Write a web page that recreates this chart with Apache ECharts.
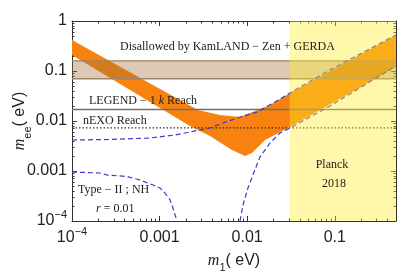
<!DOCTYPE html>
<html><head><meta charset="utf-8">
<script src="https://cdn.jsdelivr.net/npm/echarts@6/dist/echarts.min.js"></script>
<style>html,body{margin:0;padding:0;background:#fff}#c{width:400px;height:272px}</style>
</head><body><div id="c"></div>
<script>
// ---- data ----
const xTicks = [1e-4, 0.001, 0.01, 0.1];
const xTickLabels = ['10^-4', '0.001', '0.01', '0.1'];
const yTicks = [1e-4, 0.001, 0.01, 0.1, 1];
const yTickLabels = ['10^-4', '0.001', '0.01', '0.1', '1'];
const m1Range = [1e-4, 0.5];
const meeRange = [1e-4, 1];
const kamlandBand = [0.07, 0.16];
const legendReach = 0.017;
const nexoReach = 0.0073;
const planckM1 = 0.0305;
// Type-II allowed region: upper boundary (left->right), lower boundary (right->left)
const orangeUpper = [[1e-4,0.417],[2.74e-3,0.0166],[4.89e-3,0.0132],[8.27e-3,0.012],[0.0182,0.0209],[0.0308,0.0363],[0.5,0.525]];
const orangeLower = [[0.5,0.12],[0.0308,0.00759],[0.016,0.00417],[0.01135,0.00229],[0.00944,0.0020],[0.0067,0.00263],[0.00376,0.0050],[0.00222,0.0079],[1e-4,0.209]];
// NH standard bounds (blue dashed)
const nhUpper = [[1e-4,0.00417],[2.72e-4,0.00427],[7.76e-4,0.00457],[1.5e-3,0.00525],[2.22e-3,0.00603],[3.76e-3,0.00724],[5.29e-3,0.00912],[8.27e-3,0.012],[0.01294,0.0151],[0.0208,0.024],[0.0308,0.0363],[0.0881,0.105],[0.5,0.525]];
const nhLowerLeft = [[1e-4,9.55e-4],[2.09e-4,9.12e-4],[2.51e-4,8.3e-4],[4.25e-4,7.76e-4],[5.97e-4,6.6e-4],[8.41e-4,5.25e-4],[1.01e-3,4.57e-4],[1.15e-3,3.63e-4],[1.32e-3,2.63e-4],[1.42e-3,1.82e-4],[1.58e-3,1e-4]];
const nhLowerRight = [[8.28e-3,1e-4],[8.96e-3,2.09e-4],[0.0102,4.57e-4],[0.01197,9.55e-4],[0.014,1.9e-3],[0.0182,3.63e-3],[0.0237,5.75e-3],[0.0308,7.24e-3],[0.0881,0.02],[0.5,0.126]];

// ---- helpers ----
function tickFmt(ticks, labels) {
  return function (v) {
    const i = ticks.findIndex(t => Math.abs(Math.log10(t) - Math.log10(v)) < 1e-6);
    if (i < 0) return '';
    const l = labels[i];
    const m = l.match(/^10\^(.*)$/);
    return m ? '{b|10}{s|' + m[1].replace('-', '\u2212') + '}' : '{b|' + l + '}';
  };
}
const labelRich = {
  b: {fontSize: 16, fontFamily: 'Liberation Sans', color: '#222', lineHeight: 24},
  s: {fontSize: 11, fontFamily: 'Liberation Sans', color: '#222', lineHeight: 24, verticalAlign: 'top'}
};
function polySeries(points, fill, z) {
  return {
    type: 'custom', z: z, silent: true,
    data: points,
    renderItem: function (params, api) {
      if (params.dataIndex !== 0) return null;
      return {type: 'polygon', shape: {points: points.map(p => api.coord(p))}, style: {fill: fill}};
    }
  };
}
function lineSeries(data, color, width, type, z) {
  return {type: 'line', data: data, symbol: 'none', silent: true, z: z,
    lineStyle: {color: color, width: width, type: type}, animation: false};
}
const rect = (x0, x1, y0, y1) => [[x0, y0], [x1, y0], [x1, y1], [x0, y1]];
const hline = (y) => [[m1Range[0], y], [m1Range[1], y]];

const axisCommon = {
  type: 'log', logBase: 10,
  axisLine: {show: true, onZero: false, lineStyle: {color: '#333', width: 1}},
  axisTick: {show: true, inside: true, length: 5, lineStyle: {color: '#333'}},
  minorTick: {show: true, splitNumber: 9, length: 2.5, lineStyle: {color: '#333'}},
  splitLine: {show: false}
};

const chart = echarts.init(document.getElementById('c'), null, {renderer: 'canvas'});
chart.setOption({
  animation: false,
  backgroundColor: '#fff',
  grid: {left: 72, right: 4, top: 21, bottom: 51, containLabel: false, outerBoundsMode: 'none'},
  xAxis: [
    Object.assign({}, axisCommon, {
      min: m1Range[0], max: m1Range[1], position: 'bottom',
      axisLabel: {formatter: tickFmt(xTicks, xTickLabels), rich: labelRich, margin: 5, showMaxLabel: false},
      name: '{i|m}{s|1}{n|( eV)}', nameLocation: 'middle', nameGap: 28, nameMoveOverlap: false,
      nameTextStyle: {rich: {
        i: {fontSize: 16, fontStyle: 'italic', fontFamily: 'Liberation Serif', color: '#222', lineHeight: 24},
        s: {fontSize: 11, fontFamily: 'Liberation Sans', color: '#222', lineHeight: 24, verticalAlign: 'bottom'},
        n: {fontSize: 16, fontFamily: 'Liberation Sans', color: '#222', lineHeight: 24}
      }}
    }),
    Object.assign({}, axisCommon, {min: m1Range[0], max: m1Range[1], position: 'top', axisLabel: {show: false}})
  ],
  yAxis: [
    Object.assign({}, axisCommon, {
      min: meeRange[0], max: meeRange[1], position: 'left',
      axisLabel: {formatter: tickFmt(yTicks, yTickLabels), rich: labelRich, margin: 5},
      name: '{i|m}{s|ee}{n|( eV)}', nameLocation: 'middle', nameGap: 39, nameRotate: 90, nameMoveOverlap: false,
      nameTextStyle: {rich: {
        i: {fontSize: 16, fontStyle: 'italic', fontFamily: 'Liberation Serif', color: '#222', lineHeight: 26},
        s: {fontSize: 11, fontFamily: 'Liberation Sans', color: '#222', lineHeight: 26, verticalAlign: 'bottom'},
        n: {fontSize: 16, fontFamily: 'Liberation Sans', color: '#222', lineHeight: 26}
      }}
    }),
    Object.assign({}, axisCommon, {min: meeRange[0], max: meeRange[1], position: 'right', axisLabel: {show: false}})
  ],
  series: [
    polySeries(orangeUpper.concat(orangeLower), '#f7820f', 2),
    polySeries(rect(m1Range[0], m1Range[1], kamlandBand[0], kamlandBand[1]), 'rgba(160,110,60,0.38)', 3),
    lineSeries(hline(kamlandBand[0]), '#a08266', 1.3, 'solid', 4),
    lineSeries(hline(kamlandBand[1]), '#a08266', 1.3, 'solid', 4),
    lineSeries(hline(legendReach), '#6f6f6f', 1.6, 'solid', 4),
    lineSeries(hline(nexoReach), '#333', 1.2, [1.5, 2], 4),
    lineSeries(nhUpper, '#3c3ccc', 1.2, [5, 3], 5),
    lineSeries(nhLowerLeft, '#3c3ccc', 1.2, [5, 3], 5),
    lineSeries(nhLowerRight, '#3c3ccc', 1.2, [5, 3], 5),
    polySeries(rect(planckM1, m1Range[1], meeRange[0], meeRange[1]), 'rgba(255,235,40,0.4)', 6)
  ],
  graphic: [
    {type: 'text', x: 120, y: 47, z: 100, style: {text: 'Disallowed by KamLAND \u2212 Zen + GERDA', font: '12px "Liberation Serif"', fill: '#222', verticalAlign: 'middle'}},
    {type: 'text', x: 89, y: 101, z: 100, style: {text: 'LEGEND \u2212 1 {i|k} Reach', font: '12px "Liberation Serif"', fill: '#222', verticalAlign: 'middle', rich: {i: {fontStyle: 'italic', font: 'italic 12px "Liberation Serif"'}}}},
    {type: 'text', x: 83, y: 121, z: 100, style: {text: 'nEXO Reach', font: '12px "Liberation Serif"', fill: '#222', verticalAlign: 'middle'}},
    {type: 'text', x: 78, y: 190, z: 100, style: {text: 'Type \u2212 II ; NH', font: '12px "Liberation Serif"', fill: '#222', verticalAlign: 'middle'}},
    {type: 'text', x: 96, y: 209, z: 100, style: {text: '{i|r} = 0.01', font: '12px "Liberation Serif"', fill: '#222', verticalAlign: 'middle', rich: {i: {font: 'italic 12px "Liberation Serif"'}}}},
    {type: 'text', x: 332, y: 165, z: 100, style: {text: 'Planck', font: '12px "Liberation Serif"', fill: '#222', align: 'center', verticalAlign: 'middle'}},
    {type: 'text', x: 334, y: 184, z: 100, style: {text: '2018', font: '12px "Liberation Serif"', fill: '#222', align: 'center', verticalAlign: 'middle'}}
  ]
});
</script>
</body></html>
